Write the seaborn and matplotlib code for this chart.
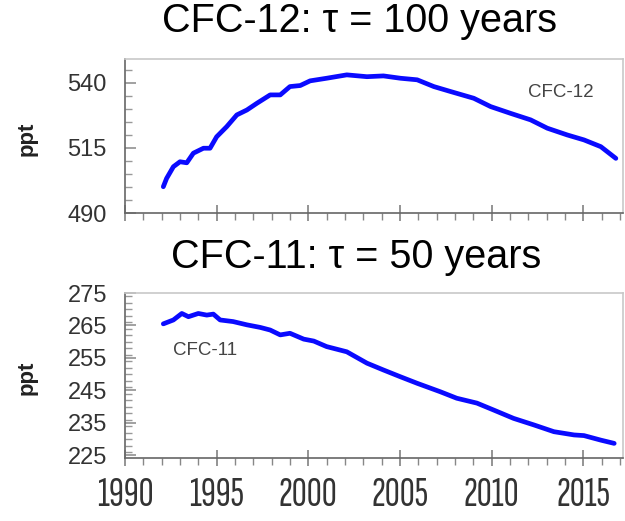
import matplotlib
matplotlib.use("Agg")
import matplotlib.pyplot as plt
from matplotlib.ticker import MultipleLocator, FixedLocator
import seaborn as sns
import pandas as pd

# ---- data ----
cfc12_year = [1992.09, 1992.27, 1992.64, 1993.0, 1993.37, 1993.73, 1994.28, 1994.64,
              1995.0, 1995.55, 1996.10, 1996.65, 1997.2, 1997.92, 1998.47, 1999.0,
              1999.56, 2000.1, 2001.0, 2002.1, 2003.2, 2004.1, 2005.03, 2005.94,
              2006.85, 2007.76, 2009.03, 2009.95, 2011.04, 2012.13, 2013.04, 2014.13,
              2015.04, 2015.96, 2016.78]
cfc12_ppt = [500.1, 503.3, 507.8, 509.7, 509.3, 513.0, 514.9, 514.9,
             519.3, 523.2, 527.7, 529.6, 532.2, 535.4, 535.4, 538.6,
             539.0, 540.8, 541.8, 543.1, 542.4, 542.7, 541.8, 541.2,
             538.6, 536.7, 534.1, 530.9, 528.3, 525.8, 522.6, 520.0,
             518.1, 515.5, 511.0]

cfc11_year = [1992.09, 1992.64, 1993.1, 1993.46, 1994.0, 1994.46, 1994.82, 1995.19,
              1995.9, 1996.65, 1997.38, 1997.92, 1998.47, 1999.0, 1999.75, 2000.3,
              2001.0, 2002.1, 2003.2, 2004.1, 2005.03, 2005.94, 2007.2, 2008.1,
              2009.2, 2010.1, 2011.2, 2012.3, 2013.4, 2014.5, 2015.04, 2015.96,
              2016.69]
cfc11_ppt = [265.5, 266.7, 268.7, 267.7, 268.7, 268.2, 268.5, 266.7,
             266.2, 265.2, 264.4, 263.6, 262.1, 262.6, 260.8, 260.2,
             258.5, 256.9, 253.4, 251.3, 249.2, 247.2, 244.6, 242.6,
             241.1, 239.0, 236.4, 234.4, 232.3, 231.3, 231.1, 229.7,
             228.7]

year_ticks = [1990, 1995, 2000, 2005, 2010, 2015]
cfc12_yticks = [490, 515, 540]
cfc11_yticks = [225, 235, 245, 255, 265, 275]

title12 = "CFC-12: τ = 100 years"
title11 = "CFC-11: τ = 50 years"

df12 = pd.DataFrame({"year": cfc12_year, "ppt": cfc12_ppt})
df11 = pd.DataFrame({"year": cfc11_year, "ppt": cfc11_ppt})

sns.set_theme(style="white")
plt.rcParams['font.family'] = ['Liberation Sans', 'DejaVu Sans']

W, H = 625, 521
fig = plt.figure(figsize=(W / 100, H / 100), dpi=100)
fig.patch.set_facecolor("white")

def fx(px):
    return px / W

def fy(py):
    return (H - py) / H

ax1 = fig.add_axes([fx(125), fy(213), fx(623) - fx(125), fy(59) - fy(213)])
ax2 = fig.add_axes([fx(125), fy(458), fx(623) - fx(125), fy(293) - fy(458)])

line_color = "#0a0aff"
sns.lineplot(data=df12, x="year", y="ppt", ax=ax1, color=line_color, linewidth=3.4)
sns.lineplot(data=df11, x="year", y="ppt", ax=ax2, color=line_color, linewidth=3.4)

ax1.set_xlim(1990, 2017.17)
ax2.set_xlim(1990, 2017.17)
ax1.set_ylim(490, 549.2)
ax2.set_ylim(224.2, 275)

for ax in (ax1, ax2):
    ax.set_xlabel("")
    ax.set_ylabel("")
    ax.xaxis.set_major_locator(FixedLocator(year_ticks))
    ax.xaxis.set_minor_locator(MultipleLocator(1))
    for s in ("left", "bottom"):
        ax.spines[s].set_color("#666666")
        ax.spines[s].set_linewidth(1.2)
    for s in ("top", "right"):
        ax.spines[s].set_color("#c8c8c8")
        ax.spines[s].set_linewidth(1.2)
    ax.tick_params(axis="x", which="major", direction="inout", length=12,
                   width=1.1, color="#777777", bottom=True)
    ax.tick_params(axis="x", which="minor", direction="out", length=5,
                   width=1.0, color="#888888", bottom=True)
    ax.tick_params(axis="y", which="major", direction="in", length=8,
                   width=1.1, color="#888888", left=True, pad=13,
                   labelsize=17, labelcolor="#333333")
    ax.tick_params(axis="y", which="minor", direction="in", length=5,
                   width=1.0, color="#999999", left=True)

ax1.yaxis.set_major_locator(FixedLocator(cfc12_yticks))
ax1.yaxis.set_minor_locator(MultipleLocator(5))
ax2.yaxis.set_major_locator(FixedLocator(cfc11_yticks))
ax2.yaxis.set_minor_locator(MultipleLocator(2))

ax1.set_xticklabels([])
ax2.set_xticks(year_ticks)
ax2.set_xticklabels([str(y) for y in year_ticks],
                    family=['Sofia Sans Extra Condensed', 'Roboto Condensed', 'Liberation Sans'],
                    fontsize=30, color="#333333")
ax2.tick_params(axis="x", which="major", pad=8)

# panel annotations
ax1.text(2013.8, 536.2, "CFC-12", ha="center", va="center", fontsize=13.5, color="#444444")
ax2.text(1994.36, 257.2, "CFC-11", ha="center", va="center", fontsize=13.5, color="#444444")

# titles
fig.text(fx(359), fy(32), title12, ha="center", va="baseline", fontsize=28.5, color="black")
fig.text(fx(356), fy(268), title11, ha="center", va="baseline", fontsize=28.5, color="black")

# y labels
fig.text(fx(27), fy(139), "ppt", rotation=90, ha="center", va="center",
         fontsize=16, fontweight="bold", color="#222222")
fig.text(fx(27), fy(378), "ppt", rotation=90, ha="center", va="center",
         fontsize=16, fontweight="bold", color="#222222")

fig.savefig("out.png", dpi=100, facecolor="white")
